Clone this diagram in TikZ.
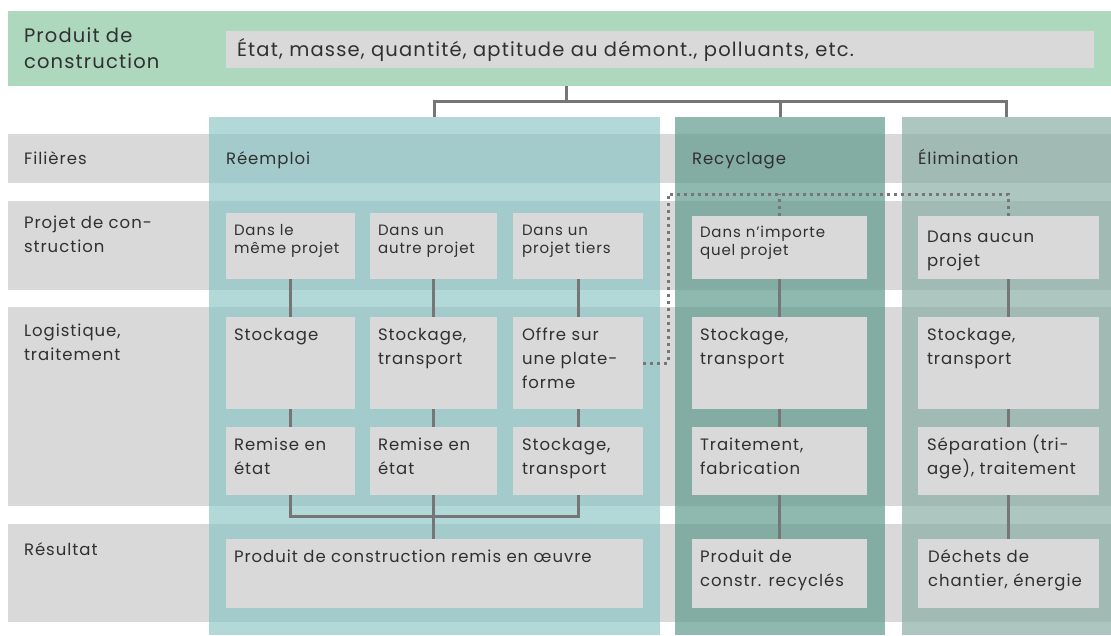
\documentclass[tikz,border=0pt]{standalone}
\usepackage{fontspec}
\setmainfont{Poppins}[LetterSpace=6]
\definecolor{greenband}{RGB}{173,216,189}
\definecolor{boxgray}{RGB}{217,217,217}
\definecolor{conncol}{RGB}{118,118,118}
\definecolor{txtcol}{RGB}{48,48,48}
\definecolor{reecol}{RGB}{138,196,196}
\definecolor{reccol}{RGB}{95,154,139}
\definecolor{elicol}{RGB}{138,174,164}
\newcommand{\bx}[6][boxn]{%
  \node[#1, minimum width={(#5-#3)*1pt}, minimum height={(#6-#4)*1pt}] (#2) at ({(#3+#5)/2},{(#4+#6)/2}) {};}
\newcommand{\tx}[5][txt]{%
  \node[#1] (#2) at (#3,#4-20) {\rule{0pt}{20pt}#5};}
\begin{document}
\begin{tikzpicture}[x=1pt,y=-1pt,
  boxn/.style={fill=boxgray, inner sep=0, outer sep=0, draw=none},
  greenn/.style={fill=greenband, inner sep=0, outer sep=0, draw=none},
  reen/.style={fill=reecol, fill opacity=0.66, inner sep=0, outer sep=0, draw=none},
  recn/.style={fill=reccol, fill opacity=0.7, inner sep=0, outer sep=0, draw=none},
  elin/.style={fill=elicol, fill opacity=0.7, inner sep=0, outer sep=0, draw=none},
  conn/.style={draw=conncol, line width=3pt},
  dotc/.style={draw=conncol, line width=3pt, dash pattern=on 3pt off 4pt},
  txt/.style={anchor=north west, inner sep=0, outer sep=0, align=left, text=txtcol, font=\fontsize{16.5}{24}\selectfont},
  smalltxt/.style={txt, font=\fontsize{15}{18}\selectfont},
  headtxt/.style={txt, font=\fontsize{19.5}{26}\selectfont}]
\useasboundingbox (0,0) rectangle (1111,635);
% header band
\bx[greenn]{head}{8}{11}{1111}{86}
\bx{headbox}{226}{31}{1094}{68}
\tx[headtxt]{headlbl}{24}{42}{Produit de\\construction}
\tx[headtxt]{headval}{237}{56}{État, masse, quantité, aptitude au démont., polluants, etc.}
% row bands
\bx{rowfil}{8}{134}{1111}{183}
\bx{rowproj}{8}{201}{1111}{290}
\bx{rowlog}{8}{307}{1111}{506}
\bx{rowres}{8}{524}{1111}{622}
% columns
\bx[reen]{ree}{209}{117}{660}{635}
\bx[recn]{rec}{675}{117}{885}{635}
\bx[elin]{eli}{902}{117}{1111}{635}
% row labels
\tx{lfil}{24}{164}{Filières}
\tx{lproj}{24}{228}{Projet de con-\\struction}
\tx{llog}{24}{336}{Logistique,\\traitement}
\tx{lres}{24}{555}{Résultat}
\tx{hree}{226}{164}{Réemploi}
\tx{hrec}{692}{164}{Recyclage}
\tx{heli}{918}{164}{Élimination}
% boxes: reemploi
\bx{a1}{226}{213}{355}{279}
\bx{b1}{370}{213}{497}{279}
\bx{c1}{513}{213}{643}{279}
\bx{a2}{226}{317}{355}{409}
\bx{b2}{370}{317}{497}{409}
\bx{c2}{513}{317}{643}{409}
\bx{a3}{226}{427}{355}{495}
\bx{b3}{370}{427}{497}{495}
\bx{c3}{513}{427}{643}{495}
\bx{res1}{226}{539}{643}{608}
% recyclage
\bx{r1}{692}{216}{867}{279}
\bx{r2}{692}{317}{867}{409}
\bx{r3}{692}{427}{867}{495}
\bx{r4}{692}{539}{867}{608}
% elimination
\bx{e1}{918}{216}{1099}{279}
\bx{e2}{918}{317}{1099}{409}
\bx{e3}{918}{427}{1099}{495}
\bx{e4}{918}{539}{1099}{608}
% texts
\tx[smalltxt]{ta1}{234}{235}{Dans le\\même projet}
\tx[smalltxt]{tb1}{378}{235}{Dans un\\autre projet}
\tx[smalltxt]{tc1}{522}{235}{Dans un\\projet tiers}
\tx{ta2}{234}{340}{Stockage}
\tx{tb2}{378}{340}{Stockage,\\transport}
\tx{tc2}{522}{340}{Offre sur\\une plate-\\forme}
\tx{ta3}{234}{450}{Remise en\\état}
\tx{tb3}{378}{450}{Remise en\\état}
\tx{tc3}{522}{450}{Stockage,\\transport}
\tx{tres1}{234}{562}{Produit de construction remis en œuvre}
\tx[smalltxt]{tr1}{700}{237}{Dans n'importe\\quel projet}
\tx{tr2}{700}{340}{Stockage,\\transport}
\tx{tr3}{700}{450}{Traitement,\\fabrication}
\tx{tr4}{700}{562}{Produit de\\constr. recyclés}
\tx{te1}{927}{242}{Dans aucun\\projet}
\tx{te2}{927}{340}{Stockage,\\transport}
\tx{te3}{927}{450}{Séparation (tri-\\age), traitement}
\tx{te4}{928}{562}{Déchets de\\chantier, énergie}
% tree from header
\coordinate (hs) at (566,86);
\coordinate (hj) at (566,101);
\draw[conn] (hs) -- (hj);
\draw[conn] (ree.north) |- (hj) -| (eli.north);
\draw[conn] (rec.north) -- (rec.north |- hj);
% reemploi connectors
\draw[conn] (a1) -- (a2); \draw[conn] (a2) -- (a3);
\draw[conn] (b1) -- (b2); \draw[conn] (b2) -- (b3);
\draw[conn] (c1) -- (c2); \draw[conn] (c2) -- (c3);
\draw[conn] (a3.south) -- ++(0,21) -| (c3.south);
\draw[conn] (b3.south) -- (b3.south |- res1.north);
% recyclage
\draw[conn] (r1) -- (r2); \draw[conn] (r2) -- (r3); \draw[conn] (r3) -- (r4);
% elimination
\draw[conn] (e1) -- (e2); \draw[conn] (e2) -- (e3); \draw[conn] (e3) -- (e4);
% dotted link
\coordinate (dl) at (668,194);
\draw[dotc] (c2.east) -| (dl) -| (e1.north);
\draw[dotc] (r1.north) -- (r1.north |- dl);
\end{tikzpicture}
\end{document}
